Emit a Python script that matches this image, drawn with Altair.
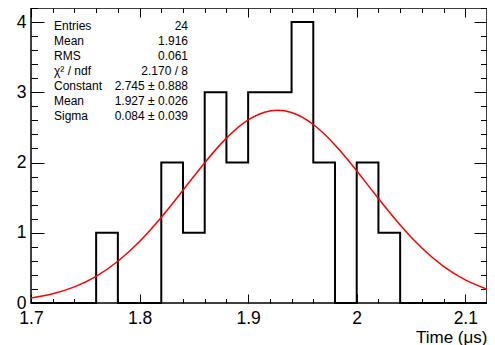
import altair as alt
import pandas as pd

# ---- data ----
bin_low = [1.70, 1.72, 1.74, 1.76, 1.78, 1.80, 1.82, 1.84, 1.86, 1.88, 1.90,
           1.92, 1.94, 1.96, 1.98, 2.00, 2.02, 2.04, 2.06, 2.08, 2.10, 2.12]
counts = [0, 0, 0, 1, 0, 0, 2, 1, 3, 2, 3, 3, 4, 2, 0, 2, 1, 0, 0, 0, 0, 0]

fit_x = [1.70, 1.72, 1.74, 1.76, 1.78, 1.80, 1.82, 1.84, 1.86, 1.88, 1.90,
         1.92, 1.94, 1.96, 1.98, 2.00, 2.02, 2.04, 2.06, 2.08, 2.10, 2.12]
fit_y = [0.071, 0.132, 0.230, 0.380, 0.594, 0.875, 1.220, 1.606, 1.997, 2.347, 2.607,
         2.735, 2.712, 2.541, 2.250, 1.882, 1.487, 1.111, 0.784, 0.522, 0.329, 0.196]

x_major = [1.7, 1.8, 1.9, 2.0, 2.1]
x_ticks = [1.70, 1.72, 1.74, 1.76, 1.78, 1.80, 1.82, 1.84, 1.86, 1.88, 1.90,
           1.92, 1.94, 1.96, 1.98, 2.00, 2.02, 2.04, 2.06, 2.08, 2.10, 2.12]
y_major = [0, 1, 2, 3, 4]
y_ticks = [0, 0.2, 0.4, 0.6, 0.8, 1.0, 1.2, 1.4, 1.6, 1.8, 2.0, 2.2, 2.4, 2.6,
           2.8, 3.0, 3.2, 3.4, 3.6, 3.8, 4.0, 4.2]

stat_names = ["Entries", "Mean", "RMS", "\u03c7\u00b2 / ndf", "Constant", "Mean", "Sigma"]
stat_values = ["24", "1.916", "0.061", "2.170 / 8", "2.745 \u00b1 0.888",
               "1.927 \u00b1 0.026", "0.084 \u00b1 0.039"]

W, H = 456, 295
FONT = "Liberation Sans"

hist_df = pd.DataFrame({"x": bin_low, "y": counts})
fit_df = pd.DataFrame({"x": fit_x, "y": fit_y})

xscale = alt.Scale(domain=[1.7, 2.12], nice=False, zero=False)
yscale = alt.Scale(domain=[0, 4.2], nice=False, zero=True)

x_major_test = "abs(datum.value*10 - round(datum.value*10)) < 0.001"
y_major_test = "abs(datum.value - round(datum.value)) < 0.001"
xts = {"condition": {"test": x_major_test, "value": 9}, "value": 4.5}
yts = {"condition": {"test": y_major_test, "value": 13}, "value": 6.5}

# Layer A: histogram + labelled axes
hist = alt.Chart(hist_df).mark_line(
    interpolate="step-after", color="black", strokeWidth=2
).encode(
    x=alt.X("x:Q", scale=xscale, axis=alt.Axis(
        orient="bottom", values=x_major, format="~g", ticks=False, domain=False,
        grid=False, labelFontSize=17.5, labelFont=FONT, labelColor="black",
        labelPadding=6, labelFlush=False,
        title="Time (\u03bcs)", titleFont=FONT, titleFontSize=17,
        titleFontWeight="normal", titleColor="black", titleAlign="right",
        titleBaseline="alphabetic", titleX=W, titleY=39)),
    y=alt.Y("y:Q", scale=yscale, axis=alt.Axis(
        orient="left", values=y_major, format="d", ticks=False, domain=False,
        grid=False, labelFontSize=17.5, labelFont=FONT, labelColor="black",
        labelPadding=5, labelFlush=False, title=None)),
)

# Layer B: fit curve + inward ticks on bottom and left
fit = alt.Chart(fit_df).mark_line(
    interpolate="natural", color="#ff0000", strokeWidth=1.5
).encode(
    x=alt.X("x:Q", scale=xscale, axis=alt.Axis(
        orient="top", offset=-H, values=x_ticks, labels=False, domain=False,
        grid=False, tickSize=xts, tickColor="black", tickWidth=1, title=None)),
    y=alt.Y("y:Q", scale=yscale, axis=alt.Axis(
        orient="right", offset=-W, values=y_ticks, labels=False, domain=False,
        grid=False, tickSize=yts, tickColor="black", tickWidth=1, title=None)),
)

# Layer C: invisible copy carrying inward ticks on top and right
ghost = alt.Chart(fit_df).mark_line(opacity=0).encode(
    x=alt.X("x:Q", scale=xscale, axis=alt.Axis(
        orient="bottom", offset=-H, values=x_ticks, labels=False, domain=False,
        grid=False, tickSize=xts, tickColor="black", tickWidth=1, title=None)),
    y=alt.Y("y:Q", scale=yscale, axis=alt.Axis(
        orient="left", offset=-W, values=y_ticks, labels=False, domain=False,
        grid=False, tickSize=yts, tickColor="black", tickWidth=1, title=None)),
)

one = pd.DataFrame({"k": [0]})
names = alt.Chart(one).mark_text(
    align="left", baseline="alphabetic", fontSize=12, font=FONT,
    lineHeight=15, color="black"
).encode(x=alt.value(23), y=alt.value(22), text=alt.value(stat_names))

values = alt.Chart(one).mark_text(
    align="right", baseline="alphabetic", fontSize=12, font=FONT,
    lineHeight=15, color="black"
).encode(x=alt.value(157), y=alt.value(22), text=alt.value(stat_values))

chart = alt.layer(hist, fit, ghost, names, values).resolve_axis(
    x="independent", y="independent"
).properties(
    width=W, height=H,
    autosize=alt.AutoSizeParams(type="none"),
    padding={"left": 23, "top": 0, "right": 0, "bottom": 42},
    background="white",
).configure_view(stroke="black", strokeWidth=1.5)

chart.save("out.html", embed_options={"renderer": "svg", "actions": False})
